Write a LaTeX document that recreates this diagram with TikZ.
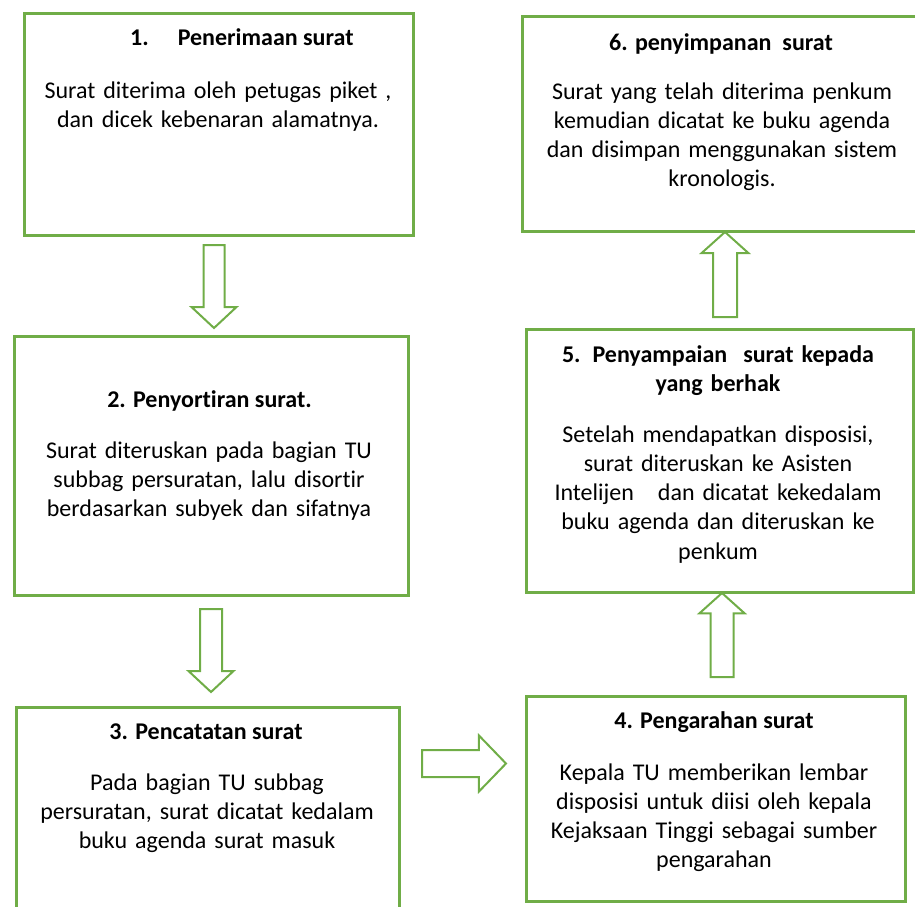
\documentclass[tikz,border=0pt]{standalone}
\usepackage{fontspec}
\setmainfont{Carlito}[Ligatures=NoCommon]
\usetikzlibrary{shapes.arrows}
\definecolor{boxgreen}{HTML}{70AD47}
\begin{document}
\begin{tikzpicture}[x=1pt,y=-1pt,line join=miter,font=\fontsize{24}{29.3}\selectfont,
box/.style={draw=boxgreen,line width=2.6pt,rectangle,anchor=north west,inner sep=0pt},
title/.style={font=\fontsize{24}{29.3}\selectfont\bfseries,anchor=base,inner sep=0pt},
body/.style={text width=390pt,align=center,anchor=base,inner sep=0pt},
blockarrow/.style={single arrow,draw=boxgreen,line width=2pt,inner xsep=0pt,single arrow head indent=0pt,anchor=tail}]
\useasboundingbox (0,0) rectangle (915,906);
\clip (0,0) rectangle (915,906);
\node[box,minimum width=389pt,minimum height=222pt] (b1) at (23,12) {};
\node[box,minimum width=394pt,minimum height=259pt] (b2) at (13,335) {};
\node[box,minimum width=383pt,minimum height=214pt] (b3) at (15,706) {};
\node[box,minimum width=379pt,minimum height=205pt] (b4) at (525,695) {};
\node[box,minimum width=387pt,minimum height=263pt] (b5) at (525,328) {};
\node[box,minimum width=420pt,minimum height=215pt] (b6) at (521,15) {};
\node[title,anchor=base west] (t1) at (130,45) {1.\hspace{29pt}Penerimaan surat};
\node[body] (x1) at (218,98) {Surat diterima oleh petugas piket ,\\ dan dicek kebenaran alamatnya.};
\node[title] (t2) at (209.5,407) {2. Penyortiran surat.};
\node[body] (x2) at (209,458) {Surat diteruskan pada bagian TU\\ subbag persuratan, lalu disortir\\ berdasarkan subyek dan sifatnya};
\node[title] (t3) at (206,739) {3. Pencatatan surat};
\node[body] (x3) at (207,790) {Pada bagian TU subbag\\ persuratan, surat dicatat kedalam\\ buku agenda surat masuk};
\node[title] (t4) at (714,728) {4. Pengarahan surat};
\node[body] (x4) at (714,780) {Kepala TU memberikan lembar\\ disposisi untuk diisi oleh kepala\\ Kejaksaan Tinggi sebagai sumber\\ pengarahan};
\node[title,text width=390pt,align=center] (t5) at (718,362) {5. Penyampaian\ \ surat kepada\\ yang berhak};
\node[body] (x5) at (718,442) {Setelah mendapatkan disposisi,\\ surat diteruskan ke Asisten\\ Intelijen\ \ \ dan dicatat kekedalam\\ buku agenda dan diteruskan ke\\ penkum};
\node[title] (t6) at (721,50) {6. penyimpanan\ \ surat};
\node[body] (x6) at (722,99) {Surat yang telah diterima penkum\\ kemudian dicatat ke buku agenda\\ dan disimpan menggunakan sistem\\ kronologis.};
\node[blockarrow,minimum height=83pt,inner ysep=9.5pt,single arrow head extend=12pt,single arrow tip angle=94,rotate=-90] (a12) at (214,244) {};
\node[blockarrow,minimum height=83pt,inner ysep=10pt,single arrow head extend=11.5pt,single arrow tip angle=94,rotate=-90] (a23) at (211,608) {};
\node[blockarrow,minimum height=84pt,inner ysep=12.5pt,single arrow head extend=14.5pt,single arrow tip angle=92] (a34) at (421,763.5) {};
\node[blockarrow,minimum height=84pt,inner ysep=10.5pt,single arrow head extend=11pt,single arrow tip angle=96,rotate=90] (a45) at (722,678) {};
\node[blockarrow,minimum height=85pt,inner ysep=11pt,single arrow head extend=11.5pt,single arrow tip angle=96,rotate=90] (a56) at (725,318) {};
\end{tikzpicture}
\end{document}
